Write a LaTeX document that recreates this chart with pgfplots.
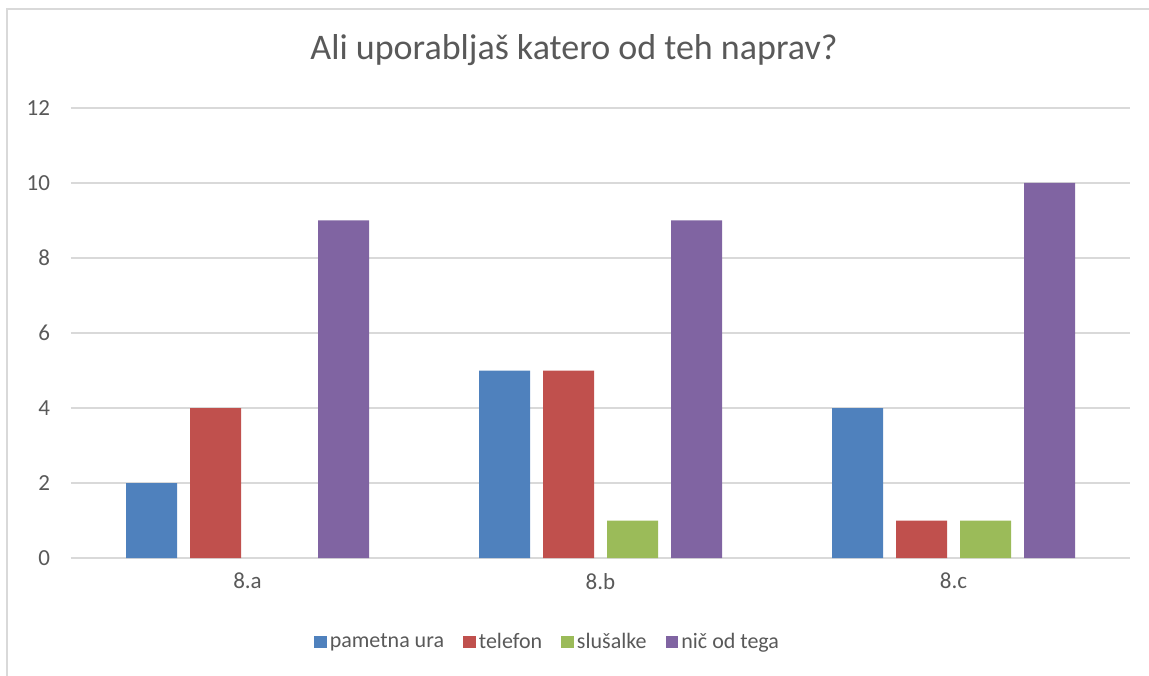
\documentclass[border=0pt]{standalone}
\usepackage{pgfplots}
\pgfplotsset{compat=1.18}
\usepackage{fontspec}
\setmainfont{Carlito}
\definecolor{txt}{HTML}{595959}
\definecolor{gridc}{HTML}{D9D9D9}
\definecolor{c1}{HTML}{4F81BD}
\definecolor{c2}{HTML}{C0504D}
\definecolor{c3}{HTML}{9BBB59}
\definecolor{c4}{HTML}{8064A2}
\begin{document}
\begin{tikzpicture}
% 1 px of the reference = 0.5pt, origin at the axis corner (px 71,558)
\useasboundingbox (-35.5pt,-58.5pt) rectangle (539pt,279pt);
\draw[gridc, line width=0.75pt] (-32pt,-60pt) -- (-32pt,274.5pt) -- (545pt,274.5pt);
\node[txt, font=\fontsize{18}{21}\selectfont] at (251.5pt,254pt) {Ali uporabljaš katero od teh naprav?};
\begin{axis}[
  at={(0pt,0pt)}, anchor=south west,
  scale only axis,
  width=529.5pt, height=225pt,
  ybar=6.5pt, bar width=25.5pt,
  xmin=-0.5, xmax=2.5, ymin=0, ymax=12,
  xtick={0,1,2}, xticklabels={8.a,8.b,8.c},
  ytick={0,2,...,12},
  /pgf/number format/assume math mode=true,
  major tick length=0pt,
  ymajorgrids, grid style={gridc, line width=0.75pt},
  x axis line style={draw=none}, y axis line style={draw=none},
  tick label style={txt, font=\fontsize{11.5}{13}\selectfont},
  yticklabel style={xshift=-7pt},
  xticklabel style={yshift=-4pt},
  legend style={at={(238.5pt,-42pt)}, anchor=center, draw=none, fill=none,
    legend columns=4, font=\fontsize{11}{13}\selectfont, text=txt,
    /tikz/every even column/.append style={column sep=8pt},
    nodes={inner sep=1.5pt}},
  legend image code/.code={\fill[#1] (0pt,-3.2pt) rectangle (6.4pt,3.2pt);},
]
\addplot[fill=c1, draw=none] coordinates {(0,2) (1,5) (2,4)};
\addplot[fill=c2, draw=none] coordinates {(0,4) (1,5) (2,1)};
\addplot[fill=c3, draw=none, restrict y to domain=0.01:100] coordinates {(0,0) (1,1) (2,1)};
\addplot[fill=c4, draw=none] coordinates {(0,9) (1,9) (2,10)};
\legend{pametna ura, telefon, slušalke, nič od tega}
\end{axis}
\end{tikzpicture}
\end{document}
